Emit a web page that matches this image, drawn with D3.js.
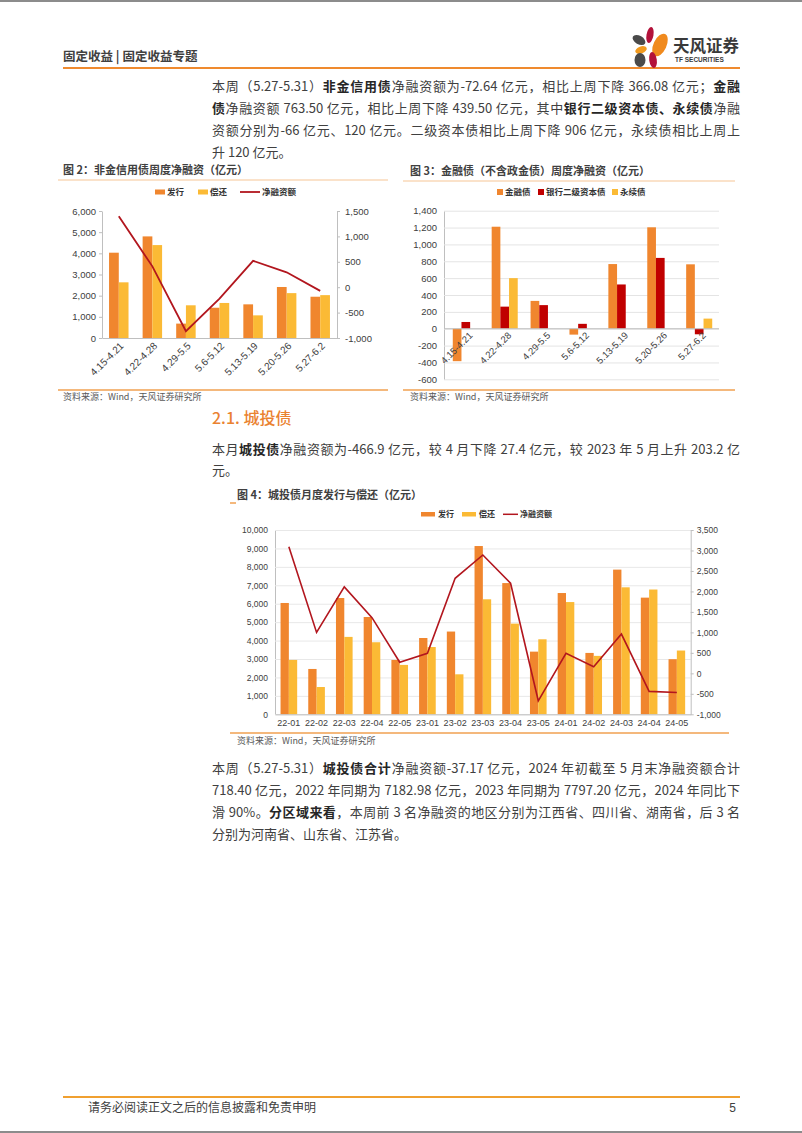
<!DOCTYPE html>
<html lang="zh-CN">
<head>
<meta charset="utf-8">
<script src="https://cdn.jsdelivr.net/npm/d3@7"></script>
<style>
  body { margin: 0; background: #fff; }
  #page { position: relative; width: 802px; height: 1133px; overflow: hidden; background: #fff;
          font-family: "Noto Sans CJK SC", "Noto Sans", sans-serif; color: #404040; }
  #page svg { position: absolute; left: 0; top: 0; }
  .ln { position: absolute; left: 212px; width: 528px; font-size: 13px; line-height: 16px;
        text-align: justify; text-align-last: justify; white-space: nowrap; }
  .ln.last { text-align-last: left; }
  .ln b { color: #262626; }
  .h2 { position: absolute; left: 212px; font-size: 16px; line-height: 20px; color: #ea8230; font-weight: 500; }
</style>
</head>
<body>
<div id="page"></div>
<script>
// ---- data ----
const weeks = ["4.15-4.21", "4.22-4.28", "4.29-5.5", "5.6-5.12", "5.13-5.19", "5.20-5.26", "5.27-6.2"];

// 图2 非金信用债
const nonFinIssue = [4030, 4800, 680, 1430, 1590, 2410, 1950];
const nonFinRepay = [2630, 4390, 1545, 1655, 1070, 2120, 2025];
const nonFinNet = [1395, 410, -865, -225, 520, 293, -73];
const nonFinLeftTicks = [0, 1000, 2000, 3000, 4000, 5000, 6000];
const nonFinRightTicks = [-1000, -500, 0, 500, 1000, 1500];

// 图3 金融债
const finBond = [-385, 1210, 330, -70, 767, 1203, 764];
const bankTier2 = [80, 262, 280, 58, 525, 840, -66];
const perpetual = [0, 600, 0, 0, 0, 0, 120];
const finTicks = [-600, -400, -200, 0, 200, 400, 600, 800, 1000, 1200, 1400];

// 图4 城投债
const months = ["22-01", "22-02", "22-03", "22-04", "22-05", "23-01", "23-02", "23-03", "23-04", "23-05",
                "24-01", "24-02", "24-03", "24-04", "24-05"];
const ctIssue = [6040, 2460, 6310, 5280, 2950, 4140, 4490, 9130, 7120, 3400, 6580, 3330, 7850, 6330, 2990];
const ctRepay = [2950, 1480, 4200, 3910, 2680, 3650, 2170, 6240, 4920, 4070, 6090, 3170, 6890, 6770, 3460];
const ctNet = [3090, 1000, 2110, 1360, 270, 490, 2320, 2890, 2200, -670, 490, 160, 960, -440, -467];
const ctLeftTicks = [0, 1000, 2000, 3000, 4000, 5000, 6000, 7000, 8000, 9000, 10000];
const ctRightTicks = [-1000, -500, 0, 500, 1000, 1500, 2000, 2500, 3000, 3500];

const ORANGE = "#f0862e", YELLOW = "#fbba35", RED = "#c00000", LINE = "#b2161e";
const NUM_FONT = '"Liberation Sans", Arial, sans-serif';
const CJK_FONT = '"Noto Sans CJK SC", sans-serif';

const fmt = d => d3.format(",")(d).replace("\u2212", "-");

const page = d3.select("#page");
const svg = page.append("svg").attr("width", 802).attr("height", 1133);

function styleAxis(sel, size) {
    sel.select(".domain").attr("stroke", "#bfbfbf");
    sel.selectAll(".tick line").attr("stroke", "#bfbfbf");
    sel.selectAll(".tick text")
        .attr("fill", "#404040")
        .style("font-family", NUM_FONT)
        .style("font-size", size + "px");
}

function label(x, y, txt, size, weight, color) {
    return svg.append("text")
        .attr("x", x).attr("y", y).attr("dy", "0.35em")
        .style("font-family", CJK_FONT)
        .style("font-size", size + "px")
        .style("font-weight", weight || "normal")
        .attr("fill", color || "#404040")
        .text(txt);
}

// ---- page frame ----
svg.append("rect").attr("x", 0).attr("y", 0).attr("width", 802).attr("height", 2).attr("fill", "#8c8c8c");
svg.append("rect").attr("x", 0).attr("y", 1131).attr("width", 802).attr("height", 2).attr("fill", "#8c8c8c");
label(63, 57, "固定收益 | 固定收益专题", 12.5, "bold", "#404040");
svg.append("line").attr("x1", 63).attr("x2", 740).attr("y1", 68).attr("y2", 68)
    .attr("stroke", "#ef8a2e").attr("stroke-width", 2);

// logo
const logo = svg.append("g");
[
    [650, 35, 3.5, 8, 10, "#b3123a"],
    [660, 45, 6.5, 12, 25, "#f08a1e"],
    [639, 40, 7, 4.2, 30, "#4a4a4a"],
    [641, 50, 6, 3.5, -20, "#f29a1e"],
    [640, 60, 5.5, 7, 0, "#4a4a4a"],
    [653, 60, 3.8, 8, -8, "#b3123a"]
].forEach(p => {
    logo.append("ellipse").attr("cx", p[0]).attr("cy", p[1]).attr("rx", p[2]).attr("ry", p[3])
        .attr("transform", `rotate(${p[4]},${p[0]},${p[1]})`).attr("fill", p[5]);
});
label(673, 46, "天风证券", 16.5, "bold", "#3a3a3a");
svg.append("text").attr("x", 675).attr("y", 60).attr("dy", "0.35em")
    .style("font-family", NUM_FONT).style("font-size", "6.5px").style("font-weight", "bold")
    .attr("fill", "#3a3a3a").text("TF SECURITIES");

// footer
svg.append("line").attr("x1", 63).attr("x2", 740).attr("y1", 1097).attr("y2", 1097)
    .attr("stroke", "#f0a030").attr("stroke-width", 2);
label(88, 1108, "请务必阅读正文之后的信息披露和免责申明", 12, "normal", "#404040");
svg.append("text").attr("x", 736).attr("y", 1108).attr("dy", "0.35em").attr("text-anchor", "end")
    .style("font-family", NUM_FONT).style("font-size", "12px").attr("fill", "#404040").text("5");

// ---- body text ----
const lines = [
    [86, "本周（5.27-5.31）<b>非金信用债</b>净融资额为-72.64 亿元，相比上周下降 366.08 亿元；<b>金融</b>", false],
    [108, "<b>债</b>净融资额 763.50 亿元，相比上周下降 439.50 亿元，其中<b>银行二级资本债、永续债</b>净融", false],
    [130, "资额分别为-66 亿元、120 亿元。二级资本债相比上周下降 906 亿元，永续债相比上周上", false],
    [152, "升 120 亿元。", true],
    [449, "本月<b>城投债</b>净融资额为-466.9 亿元，较 4 月下降 27.4 亿元，较 2023 年 5 月上升 203.2 亿", false],
    [470, "元。", true],
    [768, "本周（5.27-5.31）<b>城投债合计</b>净融资额-37.17 亿元，2024 年初截至 5 月末净融资额合计", false],
    [790, "718.40 亿元，2022 年同期为 7182.98 亿元，2023 年同期为 7797.20 亿元，2024 年同比下", false],
    [812, "滑 90%。<b>分区域来看</b>，本周前 3 名净融资的地区分别为江西省、四川省、湖南省，后 3 名", false],
    [834, "分别为河南省、山东省、江苏省。", true]
];
page.selectAll("div.ln").data(lines).enter().append("div")
    .attr("class", d => d[2] ? "ln last" : "ln")
    .style("top", d => (d[0] - 8) + "px")
    .html(d => d[1]);
page.append("div").attr("class", "h2").style("top", "407px").text("2.1. 城投债");

// ---- 图2 ----
{
    label(63, 170, "图 2：非金信用债周度净融资（亿元）", 11, "bold", "#404040");
    svg.append("line").attr("x1", 58).attr("x2", 388).attr("y1", 180).attr("y2", 180)
        .attr("stroke", "#f6c595").attr("stroke-width", 1);
    svg.append("line").attr("x1", 58).attr("x2", 388).attr("y1", 390).attr("y2", 390)
        .attr("stroke", "#f0a050").attr("stroke-width", 1.5);
    label(63, 397, "资料来源：Wind，天风证券研究所", 9, "normal", "#595959");

    const g = svg.append("g");
    const x = d3.scaleBand().domain(weeks).range([102, 337]).paddingInner(0.42).paddingOuter(0.21);
    const xs = d3.scaleBand().domain([0, 1]).range([0, x.bandwidth()]);
    const y = d3.scaleLinear().domain([0, 6000]).range([338, 211]);
    const yr = d3.scaleLinear().domain([-1000, 1500]).range([338, 211]);

    g.selectAll(".issue").data(nonFinIssue).enter().append("rect")
        .attr("x", (d, i) => x(weeks[i]) + xs(0))
        .attr("y", d => y(d))
        .attr("width", xs.bandwidth())
        .attr("height", d => y(0) - y(d))
        .attr("fill", ORANGE);
    g.selectAll(".repay").data(nonFinRepay).enter().append("rect")
        .attr("x", (d, i) => x(weeks[i]) + xs(1))
        .attr("y", d => y(d))
        .attr("width", xs.bandwidth())
        .attr("height", d => y(0) - y(d))
        .attr("fill", YELLOW);

    g.append("g").attr("transform", "translate(0,338)")
        .call(d3.axisBottom(x).tickSize(0))
        .call(styleAxis, 10)
        .selectAll(".tick text")
        .attr("y", 0).attr("dy", "0.35em")
        .attr("text-anchor", "end")
        .attr("transform", "translate(3,6) rotate(-45)");
    g.append("g").attr("transform", "translate(102,0)")
        .call(d3.axisLeft(y).tickValues(nonFinLeftTicks).tickFormat(fmt).tickSizeInner(3).tickSizeOuter(0).tickPadding(3))
        .call(styleAxis, 9.5);
    g.append("g").attr("transform", "translate(337,0)")
        .call(d3.axisRight(yr).tickValues(nonFinRightTicks).tickFormat(fmt).tickSizeInner(3).tickSizeOuter(0).tickPadding(5))
        .call(styleAxis, 9.5);

    g.append("path").datum(nonFinNet)
        .attr("fill", "none").attr("stroke", LINE).attr("stroke-width", 1.8)
        .attr("d", d3.line().x((d, i) => x(weeks[i]) + x.bandwidth() / 2).y(d => yr(d)));

    // legend
    g.append("rect").attr("x", 155).attr("y", 189.5).attr("width", 10).attr("height", 5).attr("fill", ORANGE);
    label(167, 192, "发行", 8.5, "bold", "#333");
    g.append("rect").attr("x", 198).attr("y", 189.5).attr("width", 10).attr("height", 5).attr("fill", YELLOW);
    label(210, 192, "偿还", 8.5, "bold", "#333");
    g.append("line").attr("x1", 240).attr("x2", 260).attr("y1", 192).attr("y2", 192).attr("stroke", LINE).attr("stroke-width", 1.8);
    label(262, 192, "净融资额", 8.5, "bold", "#333");
}

// ---- 图3 ----
{
    label(410, 171, "图 3：金融债（不含政金债）周度净融资（亿元）", 11, "bold", "#404040");
    svg.append("line").attr("x1", 403).attr("x2", 735).attr("y1", 181).attr("y2", 181)
        .attr("stroke", "#f6c595").attr("stroke-width", 1);
    svg.append("line").attr("x1", 403).attr("x2", 735).attr("y1", 390).attr("y2", 390)
        .attr("stroke", "#f0a050").attr("stroke-width", 1.5);
    label(410, 397, "资料来源：Wind，天风证券研究所", 9, "normal", "#595959");

    const g = svg.append("g");
    const x = d3.scaleBand().domain(weeks).range([445, 720]).paddingInner(0.33).paddingOuter(0.2);
    const series = [finBond, bankTier2, perpetual];
    const colors = [ORANGE, RED, YELLOW];
    const xs = d3.scaleBand().domain([0, 1, 2]).range([0, x.bandwidth()]);
    const y = d3.scaleLinear().domain([-600, 1400]).range([379.3, 210.7]);

    g.append("g").attr("transform", "translate(444,0)")
        .call(d3.axisLeft(y).tickValues(finTicks).tickFormat(fmt).tickSizeInner(-275).tickSizeOuter(0).tickPadding(7))
        .call(styleAxis, 9.5)
        .call(a => a.selectAll(".tick line").attr("stroke", "#e4e4e4"));

    series.forEach((vals, k) => {
        g.selectAll(".s" + k).data(vals).enter().append("rect")
            .attr("x", (d, i) => x(weeks[i]) + xs(k))
            .attr("y", d => y(Math.max(0, d)))
            .attr("width", xs.bandwidth())
            .attr("height", d => Math.abs(y(d) - y(0)))
            .attr("fill", colors[k]);
    });

    g.append("g").attr("transform", `translate(0,${y(0)})`)
        .call(d3.axisBottom(x).tickSize(0))
        .call(styleAxis, 9.5)
        .call(a => a.select(".domain").attr("d", `M444,0H719`))
        .selectAll(".tick text")
        .attr("y", 0).attr("dy", "0.35em")
        .attr("text-anchor", "end")
        .attr("transform", "translate(5,5) rotate(-45)");

    // legend
    g.append("rect").attr("x", 497).attr("y", 189).attr("width", 6).attr("height", 6).attr("fill", ORANGE);
    label(505, 192, "金融债", 8.5, "bold", "#333");
    g.append("rect").attr("x", 538).attr("y", 189).attr("width", 6).attr("height", 6).attr("fill", RED);
    label(546, 192, "银行二级资本债", 8.5, "bold", "#333");
    g.append("rect").attr("x", 612).attr("y", 189).attr("width", 6).attr("height", 6).attr("fill", YELLOW);
    label(620, 192, "永续债", 8.5, "bold", "#333");
}

// ---- 图4 ----
{
    label(237, 495, "图 4：城投债月度发行与偿还（亿元）", 11, "bold", "#404040");
    svg.append("line").attr("x1", 230).attr("x2", 236).attr("y1", 503).attr("y2", 503)
        .attr("stroke", "#f0a050").attr("stroke-width", 1.5);
    svg.append("line").attr("x1", 230).attr("x2", 729).attr("y1", 733).attr("y2", 733)
        .attr("stroke", "#f0a050").attr("stroke-width", 1.5);
    label(237, 741, "资料来源：Wind，天风证券研究所", 9, "normal", "#595959");

    const g = svg.append("g");
    const x = d3.scaleBand().domain(months).range([275, 690.7]).paddingInner(0.4).paddingOuter(0.2);
    const xs = d3.scaleBand().domain([0, 1]).range([0, x.bandwidth()]);
    const y = d3.scaleLinear().domain([0, 10000]).range([714.3, 530]);
    const yr = d3.scaleLinear().domain([-1000, 3500]).range([714.3, 530]);

    g.append("g").attr("transform", "translate(275,0)")
        .call(d3.axisLeft(y).tickValues(ctLeftTicks).tickFormat(fmt).tickSizeInner(-415.7).tickSizeOuter(0).tickPadding(7))
        .call(styleAxis, 8.5)
        .call(a => a.selectAll(".tick line").attr("stroke", "#e8e8e8"));

    g.selectAll(".issue").data(ctIssue).enter().append("rect")
        .attr("x", (d, i) => x(months[i]) + xs(0))
        .attr("y", d => y(d))
        .attr("width", xs.bandwidth())
        .attr("height", d => y(0) - y(d))
        .attr("fill", ORANGE);
    g.selectAll(".repay").data(ctRepay).enter().append("rect")
        .attr("x", (d, i) => x(months[i]) + xs(1))
        .attr("y", d => y(d))
        .attr("width", xs.bandwidth())
        .attr("height", d => y(0) - y(d))
        .attr("fill", YELLOW);

    g.append("g").attr("transform", "translate(0,714.3)")
        .call(d3.axisBottom(x).tickSize(0).tickPadding(5))
        .call(styleAxis, 9);
    g.append("g").attr("transform", "translate(690.7,0)")
        .call(d3.axisRight(yr).tickValues(ctRightTicks).tickFormat(fmt).tickSizeInner(3).tickSizeOuter(0).tickPadding(3))
        .call(styleAxis, 8.5);

    g.append("path").datum(ctNet)
        .attr("fill", "none").attr("stroke", LINE).attr("stroke-width", 1.6)
        .attr("d", d3.line().x((d, i) => x(months[i]) + x.bandwidth() / 2).y(d => yr(d)));

    // legend
    g.append("rect").attr("x", 421).attr("y", 512).attr("width", 14).attr("height", 4.5).attr("fill", ORANGE);
    label(438, 514.3, "发行", 8, "bold", "#333");
    g.append("rect").attr("x", 462).attr("y", 512).attr("width", 14).attr("height", 4.5).attr("fill", YELLOW);
    label(479, 514.3, "偿还", 8, "bold", "#333");
    g.append("line").attr("x1", 503).attr("x2", 518).attr("y1", 514.3).attr("y2", 514.3).attr("stroke", LINE).attr("stroke-width", 1.5);
    label(520, 514.3, "净融资额", 8, "bold", "#333");
}
</script>
</body>
</html>
